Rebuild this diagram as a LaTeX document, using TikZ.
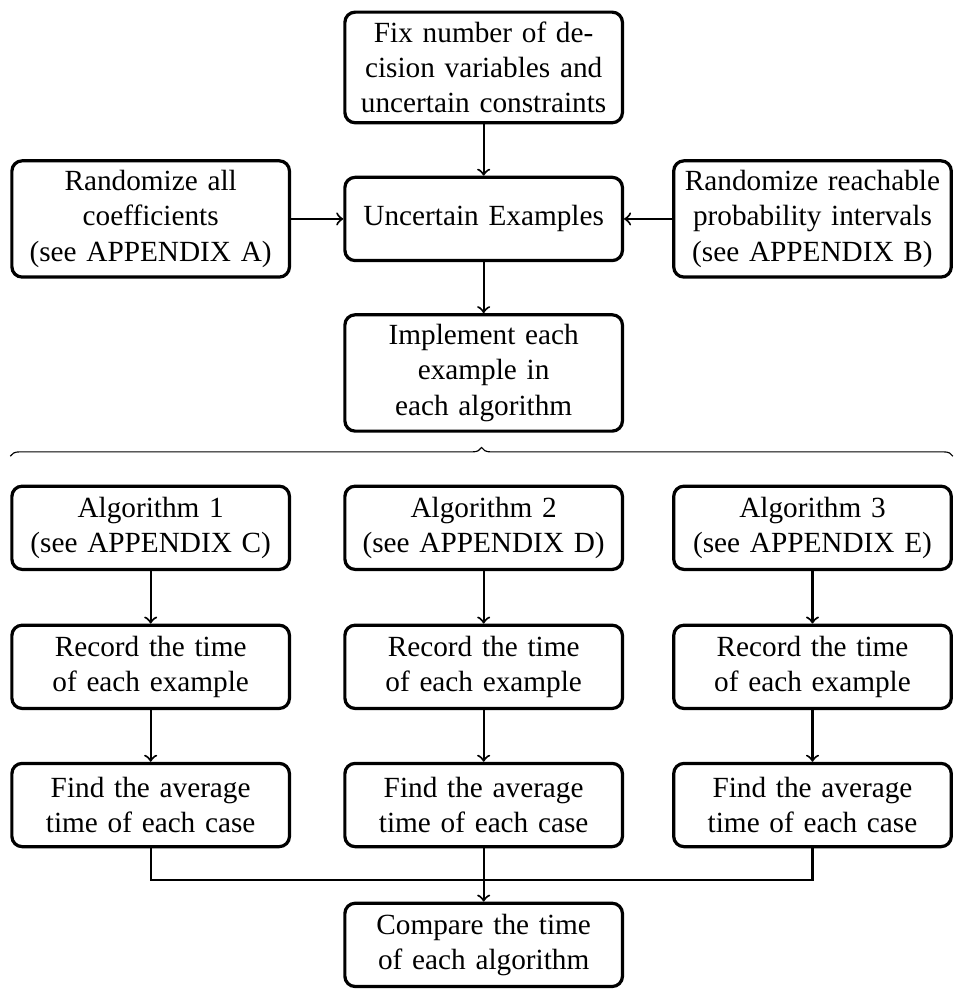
\documentclass[tikz,border=0pt]{standalone}
\usepackage{fontspec}
\setmainfont{Liberation Serif}
\usetikzlibrary{arrows,decorations.pathreplacing}
\newcommand{\boxwidth}{3.1cm}
\tikzset{
    node style box/.style={draw,line width=1.1pt,rectangle,rounded corners=3.5pt,align=center,text width=\boxwidth,minimum height=1cm},
    arrow style line/.style={line width=0.7pt},
    brace style/.style={thin,decorate,decoration={brace,amplitude=3pt}},
}

\begin{document}
\begin{tikzpicture}[>=to]

\useasboundingbox (-5.81,2.63) rectangle (5.64,-9.25);

\node [node style box] (fix) at (0,1.82) {Fix number of decision variables and uncertain constraints};
\node [node style box] (uncertain) at (0,0) {Uncertain Examples};
\node [node style box] (randcoef) at (-4,0) {Randomize all\\coefficients\\(see APPENDIX A)};
\node [node style box] (randprob) at (3.95,0) {Randomize reachable probability intervals\\(see APPENDIX B)};
\node [node style box] (implement) at (0,-1.85) {Implement each\\example in\\each algorithm};

 \draw [arrow style line,->] (fix.south)--(uncertain.north);
 \draw [arrow style line,->] (randcoef.east)--(uncertain.west);
 \draw [arrow style line,->] (randprob.west)--(uncertain.east);
 \draw [arrow style line,->] (uncertain.south)--(implement.north);

\node [node style box] (alg1) at (-4,-3.71) {Algorithm 1\\(see APPENDIX C)};
\node [node style box] (alg2) at (0,-3.71) {Algorithm 2\\(see APPENDIX D)};
\node [node style box] (alg3) at (3.95,-3.71) {Algorithm 3\\(see APPENDIX E)};

\draw [brace style] ([yshift=0.34cm]alg1.north west)--([yshift=0.34cm]alg3.north east);

\node [node style box] (record1) at (-4,-5.38) {Record the time\\of each example};
\node [node style box] (record2) at (0,-5.38) {Record the time\\of each example};
\node [node style box] (record3) at (3.95,-5.38) {Record the time\\of each example};

\node [node style box] (find1) at (-4,-7.04) {Find the average\\time of each case};
\node [node style box] (find2) at (0,-7.04) {Find the average\\time of each case};
\node [node style box] (find3) at (3.95,-7.04) {Find the average\\time of each case};

 \draw [arrow style line,->] (alg1.south)--(record1.north);
 \draw [arrow style line,->] (alg2.south)--(record2.north);
 \draw [arrow style line,->] (alg3.south)--(record3.north);
 \draw [arrow style line,->] (record1.south)--(find1.north);
 \draw [arrow style line,->] (record2.south)--(find2.north);
 \draw [arrow style line,->] (record3.south)--(find3.north);

\node [node style box] (compare) at (0,-8.72) {Compare the time\\of each algorithm};

 \draw [arrow style line] (find1.south)--++(0,-0.38)-|(find3.south);
 \draw [arrow style line,->] (find2.south)--(compare.north);

\end{tikzpicture}
\end{document}
